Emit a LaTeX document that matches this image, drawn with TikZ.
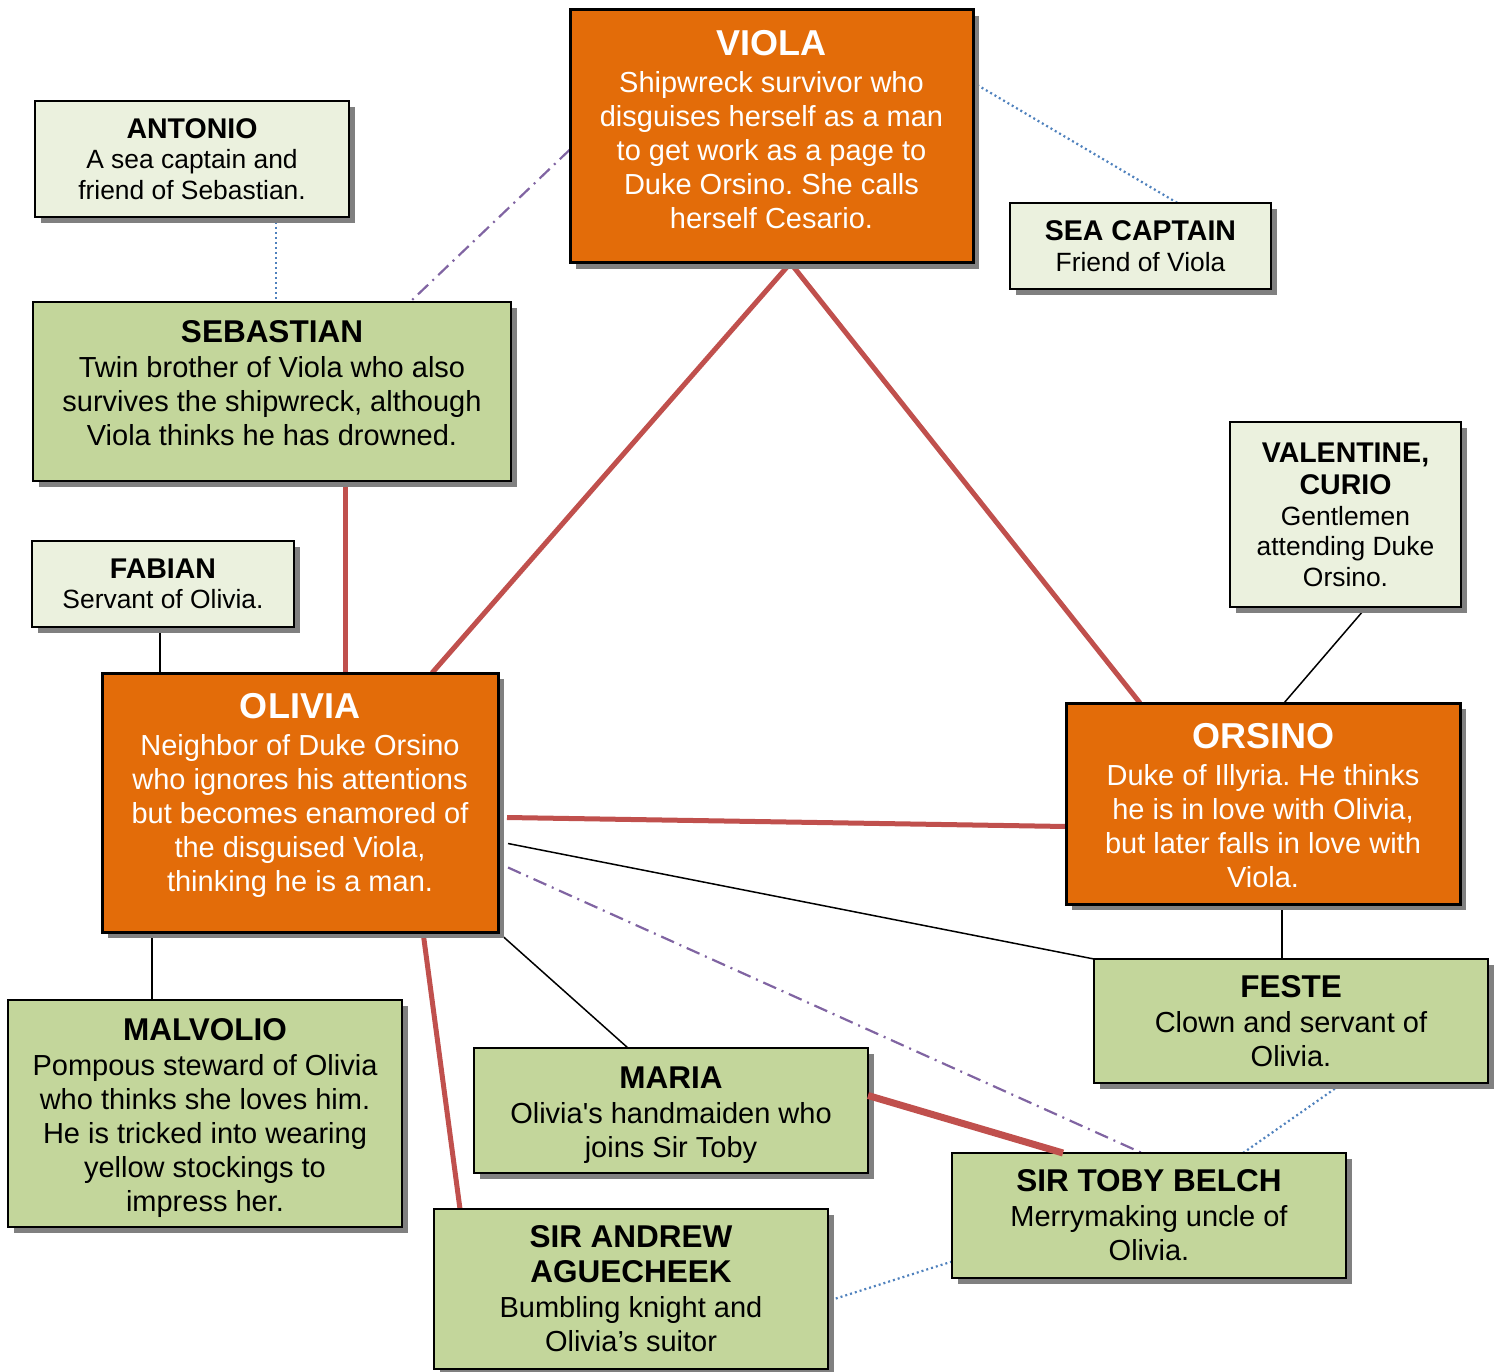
\documentclass[tikz,border=0pt]{standalone}
\usepackage{fontspec}
\setmainfont{Liberation Sans}[Ligatures=TeXOff]
\usepackage{tikz}
\usetikzlibrary{shadows,backgrounds}
\frenchspacing
\definecolor{leadorange}{HTML}{E36C09}
\definecolor{castgreen}{HTML}{C3D69B}
\definecolor{asidegreen}{HTML}{EBF1DE}
\definecolor{loverred}{HTML}{C0504D}
\definecolor{schemepurple}{HTML}{8064A2}
\definecolor{friendblue}{HTML}{4F81BD}
\definecolor{boxshadow}{HTML}{808080}
\newcommand{\leadname}[1]{{\fontsize{36}{40}\selectfont\bfseries #1}}
\newcommand{\castname}[1]{{\fontsize{31.5}{36}\selectfont\bfseries #1}}
\newcommand{\asidename}[1]{{\fontsize{28.5}{32}\selectfont\bfseries #1}}
\newcommand{\padbelow}[1]{\rule[-#1]{0pt}{#1}}
\newcommand{\padabove}[1]{\rule{0pt}{#1}}
\tikzset{
  every node/.style={
    font=\fontsize{29}{34}\selectfont
  },
  card/.style n args={2}{
    shape=rectangle,
    anchor=north west,
    outer sep=0pt,
    inner sep=0pt,
    minimum width=#1,
    minimum height=#2,
    align=center,
    drop shadow={shadow xshift=6pt,shadow yshift=-6pt,fill=boxshadow,opacity=1}
  },
  lead/.style n args={2}{
    card={#1}{#2},
    draw=black,
    line width=3pt,
    fill=leadorange,
    text=white
  },
  cast/.style n args={2}{
    card={#1}{#2},
    draw=black,
    line width=2pt,
    fill=castgreen
  },
  aside/.style n args={2}{
    card={#1}{#2},
    draw=black,
    line width=2pt,
    fill=asidegreen,
    font=\fontsize{26.4}{30.5}\selectfont
  },
  romance/.style={
    draw=loverred,
    line width=5pt
  },
  scheme/.style={
    draw=schemepurple,
    line width=2.2pt,
    dash pattern=on 14pt off 6pt on 2pt off 6pt
  },
  bond/.style={
    draw=friendblue,
    line width=2.2pt,
    dash pattern=on 2pt off 3pt
  },
  service/.style={
    draw=black,
    line width=1.5pt
  }
}
\begin{document}
\begin{tikzpicture}[x=1pt,y=-1pt]
  \useasboundingbox (0,0) rectangle (1502,1372);
  \node (viola) [lead={403pt}{253pt}] at (570,10) {
    \leadname{VIOLA}\\[3pt]
    Shipwreck survivor who\\ disguises herself as a man\\
    to get work as a page to\\ Duke Orsino. She calls\\ herself Cesario.\padbelow{14pt}
  };
  \node (antonio) [aside={314pt}{116pt}] at (35,101) {
    \asidename{ANTONIO}\\ A sea captain and\\ friend of Sebastian.
  };
  \node (seacaptain) [aside={261pt}{86pt}] at (1010,203) {
    \asidename{SEA CAPTAIN}\\ Friend of Viola
  };
  \node (sebastian) [cast={478pt}{179pt}] at (33,302) {
    \castname{SEBASTIAN}\\[1pt] Twin brother of Viola who also\\
    survives the shipwreck, although\\ Viola thinks he has drowned.\padbelow{17pt}
  };
  \node (valentine) [aside={231pt}{185pt}] at (1230,422) {
    \asidename{VALENTINE,}\\[2pt] \asidename{CURIO}\\
    Gentlemen\\ attending Duke\\ Orsino.
  };
  \node (fabian) [aside={262pt}{86pt}] at (32,541) {
    \asidename{FABIAN}\\ Servant of Olivia.
  };
  \node (olivia) [lead={396pt}{259pt}] at (102,673) {
    \leadname{OLIVIA}\\[3pt]
    Neighbor of Duke Orsino\\ who ignores his attentions\\
    but becomes enamored of\\ the disguised Viola,\\ thinking he is a man.\padbelow{21pt}
  };
  \node (orsino) [lead={394pt}{201pt}] at (1066,703) {
    \padabove{30pt}\leadname{ORSINO}\\[3pt]
    Duke of Illyria. He thinks\\ he is in love with Olivia,\\
    but later falls in love with\\ Viola.
  };
  \node (feste) [cast={394pt}{124pt}] at (1094,959) {
    \castname{FESTE}\\[1pt] Clown and servant of\\ Olivia.
  };
  \node (malvolio) [cast={394pt}{227pt}] at (8,1000) {
    \padabove{31pt}\castname{MALVOLIO}\\[1pt] Pompous steward of Olivia\\ who thinks she loves him.\\
    He is tricked into wearing\\ yellow stockings to\\ impress her.
  };
  \node (maria) [cast={394pt}{125pt}] at (474,1048) {
    \padabove{30pt}\castname{MARIA}\\[1pt] Olivia's handmaiden who\\ joins Sir Toby
  };
  \node (toby) [cast={394pt}{125pt}] at (952,1153) {
    \castname{SIR TOBY BELCH}\\[1pt] Merrymaking uncle of\\ Olivia.
  };
  \node (andrew) [cast={394pt}{160pt}] at (434,1209) {
    \castname{SIR ANDREW}\\[1pt] \castname{AGUECHEEK}\\[1pt]
    Bumbling knight and\\ Olivia’s suitor
  };

  \begin{scope}[on background layer]
    \draw [romance] ([xshift=19pt]viola.south) -- ([xshift=132pt]olivia.north);
    \draw [romance] ([xshift=19pt]viola.south) -- ([xshift=-123pt]orsino.north);
    \draw [romance] ([xshift=73pt]sebastian.south) -- ([xshift=45pt]olivia.north);
    \draw [romance] ([xshift=9pt,yshift=-15pt]olivia.east) -- ([yshift=-23pt]orsino.west);
    \draw [romance] ([xshift=123pt]olivia.south) -- ([xshift=-171pt]andrew.north);
    \draw [scheme] ([yshift=-13pt]viola.west) -- ([xshift=138pt]sebastian.north);
    \draw [scheme] ([xshift=10pt,yshift=-65pt]olivia.east) -- ([xshift=-7pt]toby.north);
    \draw [bond] ([yshift=54pt]viola.east) -- ([xshift=37pt]seacaptain.north);
    \draw [bond] ([xshift=84pt]antonio.south) -- ([xshift=4pt]sebastian.north);
    \draw [bond] ([xshift=52pt]feste.south) -- ([xshift=94pt]toby.north);
    \draw [bond] ([yshift=-46pt]toby.west) -- ([yshift=-12pt]andrew.east);
    \draw [service] ([xshift=-3pt]fabian.south) -- ([xshift=-140pt]olivia.north);
    \draw [service] ([xshift=-148pt]olivia.south) -- ([xshift=-53pt]malvolio.north);
    \draw [service] (olivia.south east) -- ([xshift=-43pt]maria.north);
    \draw [service] ([xshift=10pt,yshift=-41pt]olivia.east) -- (feste.north west);
    \draw [service] ([xshift=19pt]orsino.south) -- ([xshift=-9pt]feste.north);
    \draw [service] ([xshift=21pt]valentine.south) -- ([xshift=21pt]orsino.north);
  \end{scope}
  \draw [romance,line width=7pt] ([yshift=15pt]maria.east) -- ([xshift=-86pt]toby.north);
\end{tikzpicture}
\end{document}
